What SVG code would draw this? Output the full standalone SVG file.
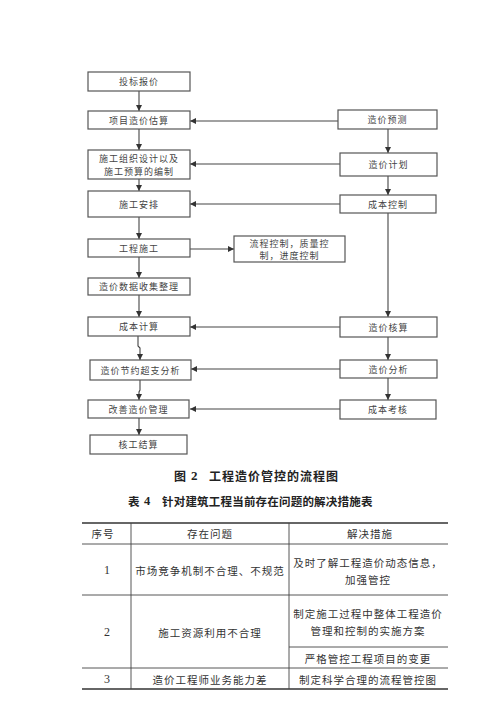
<svg xmlns="http://www.w3.org/2000/svg" width="500" height="707" viewBox="0 0 500 707">
<style>
.box{fill:#fff;stroke:#555;stroke-width:1.2}
.ft{font-family:"Noto Sans CJK SC","Noto Sans",sans-serif;font-size:9px;fill:#444;text-anchor:middle;dominant-baseline:central;letter-spacing:1px}
.cn{stroke:#444;stroke-width:1.1;fill:none}
.tl{stroke:#444;stroke-width:0.9}
.tt{font-family:"Noto Sans CJK SC","Noto Sans",sans-serif;font-size:10.5px;fill:#333;text-anchor:middle;dominant-baseline:central;letter-spacing:1px}
.num{font-family:"Liberation Serif",serif;font-size:12px;fill:#333;text-anchor:middle;dominant-baseline:central}
.cap{font-family:"Noto Sans CJK SC","Noto Sans",sans-serif;font-weight:bold;fill:#222;dominant-baseline:central}
.capn{font-family:"Liberation Serif",serif;font-weight:bold}
</style>
<defs>
<marker id="ah" viewBox="0 0 10 10" refX="10" refY="5" markerWidth="6" markerHeight="6" orient="auto" markerUnits="userSpaceOnUse">
<path d="M0,0 L10,5 L0,10 Z" fill="#333"/>
</marker>
</defs>
<rect width="500" height="707" fill="#fff"/>

<g id="connectors">
<line class="cn" x1="139" y1="91" x2="139" y2="111" marker-end="url(#ah)"/>
<line class="cn" x1="139" y1="129" x2="139" y2="150" marker-end="url(#ah)"/>
<line class="cn" x1="139" y1="179" x2="139" y2="191" marker-end="url(#ah)"/>
<line class="cn" x1="139" y1="217" x2="139" y2="239" marker-end="url(#ah)"/>
<line class="cn" x1="139" y1="257" x2="139" y2="278" marker-end="url(#ah)"/>
<line class="cn" x1="139" y1="295" x2="139" y2="317" marker-end="url(#ah)"/>
<polyline class="cn" points="138,336 138,346 140,348 140,360" marker-end="url(#ah)"/>
<polyline class="cn" points="140,380 140,390 139,392 139,400" marker-end="url(#ah)"/>
<line class="cn" x1="139" y1="418" x2="139" y2="435" marker-end="url(#ah)"/>
<line class="cn" x1="388" y1="129" x2="388" y2="153" marker-end="url(#ah)"/>
<line class="cn" x1="388" y1="176" x2="388" y2="195" marker-end="url(#ah)"/>
<line class="cn" x1="388" y1="213" x2="388" y2="317" marker-end="url(#ah)"/>
<line class="cn" x1="388" y1="337" x2="388" y2="360" marker-end="url(#ah)"/>
<line class="cn" x1="388" y1="378" x2="388" y2="400" marker-end="url(#ah)"/>
<line class="cn" x1="338" y1="121" x2="190" y2="121" marker-end="url(#ah)"/>
<line class="cn" x1="340" y1="164" x2="190" y2="164" marker-end="url(#ah)"/>
<line class="cn" x1="340" y1="204" x2="190" y2="204" marker-end="url(#ah)"/>
<line class="cn" x1="340" y1="327" x2="190" y2="327" marker-end="url(#ah)"/>
<line class="cn" x1="340" y1="369" x2="191" y2="369" marker-end="url(#ah)"/>
<line class="cn" x1="340" y1="409" x2="190" y2="409" marker-end="url(#ah)"/>
<line class="cn" x1="190" y1="249" x2="234" y2="249" marker-end="url(#ah)"/>
</g>

<g id="n1"><rect class="box" x="88" y="72" width="102" height="19"/><text class="ft" x="139" y="81.5">投标报价</text></g>
<g id="n2"><rect class="box" x="88" y="111" width="102" height="18"/><text class="ft" x="139" y="120">项目造价估算</text></g>
<g id="n3"><rect class="box" x="88" y="150" width="102" height="29"/><text class="ft" x="139" y="158">施工组织设计以及</text><text class="ft" x="139" y="171">施工预算的编制</text></g>
<g id="n4"><rect class="box" x="88" y="191" width="102" height="26"/><text class="ft" x="139" y="204">施工安排</text></g>
<g id="n5"><rect class="box" x="88" y="239" width="102" height="18"/><text class="ft" x="139" y="248">工程施工</text></g>
<g id="n6"><rect class="box" x="88" y="278" width="102" height="17"/><text class="ft" x="139" y="286.5">造价数据收集整理</text></g>
<g id="n7"><rect class="box" x="88" y="317" width="102" height="19"/><text class="ft" x="139" y="326.5">成本计算</text></g>
<g id="n8"><rect class="box" x="90" y="360" width="101" height="20"/><text class="ft" x="140.5" y="370">造价节约超支分析</text></g>
<g id="n9"><rect class="box" x="88" y="400" width="101" height="18"/><text class="ft" x="138.5" y="409">改善造价管理</text></g>
<g id="n10"><rect class="box" x="90" y="435" width="97" height="19"/><text class="ft" x="138.5" y="444.5">核工结算</text></g>

<g id="r1"><rect class="box" x="338" y="110" width="99" height="19"/><text class="ft" x="387.5" y="119.5">造价预测</text></g>
<g id="r2"><rect class="box" x="340" y="153" width="97" height="23"/><text class="ft" x="388.5" y="164.5">造价计划</text></g>
<g id="r3"><rect class="box" x="340" y="195" width="96" height="18"/><text class="ft" x="388" y="204">成本控制</text></g>
<g id="r4"><rect class="box" x="340" y="317" width="97" height="20"/><text class="ft" x="388.5" y="327">造价核算</text></g>
<g id="r5"><rect class="box" x="340" y="360" width="97" height="18"/><text class="ft" x="388.5" y="369">造价分析</text></g>
<g id="r6"><rect class="box" x="340" y="400" width="96" height="19"/><text class="ft" x="388" y="409.5">成本考核</text></g>

<g id="side"><rect class="box" x="234" y="236" width="111" height="26"/><text class="ft" x="289.5" y="243.5">流程控制，质量控</text><text class="ft" x="289.5" y="255">制，进度控制</text></g>

<text class="cap" y="475" font-size="12"><tspan x="174">图</tspan><tspan class="capn" x="191" font-size="13">2</tspan><tspan x="209" letter-spacing="1">工程造价管控的流程图</tspan></text>
<text class="cap" y="501" font-size="11.5"><tspan x="128">表</tspan><tspan class="capn" x="144" font-size="12.5">4</tspan><tspan x="162" letter-spacing="0.2">针对建筑工程当前存在问题的解决措施表</tspan></text>

<g id="table">
<line x1="82" y1="523" x2="448" y2="523" stroke="#333" stroke-width="1.6"/>
<line class="tl" x1="82" y1="544" x2="448" y2="544"/>
<line class="tl" x1="82" y1="595" x2="448" y2="595"/>
<line class="tl" x1="289" y1="647" x2="448" y2="647"/>
<line class="tl" x1="82" y1="668" x2="448" y2="668"/>
<line x1="82" y1="689" x2="448" y2="689" stroke="#333" stroke-width="1.6"/>
<line class="tl" x1="131" y1="523" x2="131" y2="689"/>
<line class="tl" x1="289" y1="523" x2="289" y2="689"/>
<text class="tt" x="103" y="533.5">序号</text>
<text class="tt" x="210" y="533.5">存在问题</text>
<text class="tt" x="370" y="533.5">解决措施</text>
<text class="num" x="107" y="570">1</text>
<text class="tt" x="210" y="570" letter-spacing="0.6">市场竞争机制不合理、不规范</text>
<text class="tt" x="368" y="562">及时了解工程造价动态信息，</text>
<text class="tt" x="368" y="579">加强管控</text>
<text class="num" x="107" y="632">2</text>
<text class="tt" x="210" y="632">施工资源利用不合理</text>
<text class="tt" x="368" y="613">制定施工过程中整体工程造价</text>
<text class="tt" x="368" y="630">管理和控制的实施方案</text>
<text class="tt" x="368" y="658">严格管控工程项目的变更</text>
<text class="num" x="107" y="679">3</text>
<text class="tt" x="210" y="679">造价工程师业务能力差</text>
<text class="tt" x="368" y="679">制定科学合理的流程管控图</text>
</g>
</svg>
